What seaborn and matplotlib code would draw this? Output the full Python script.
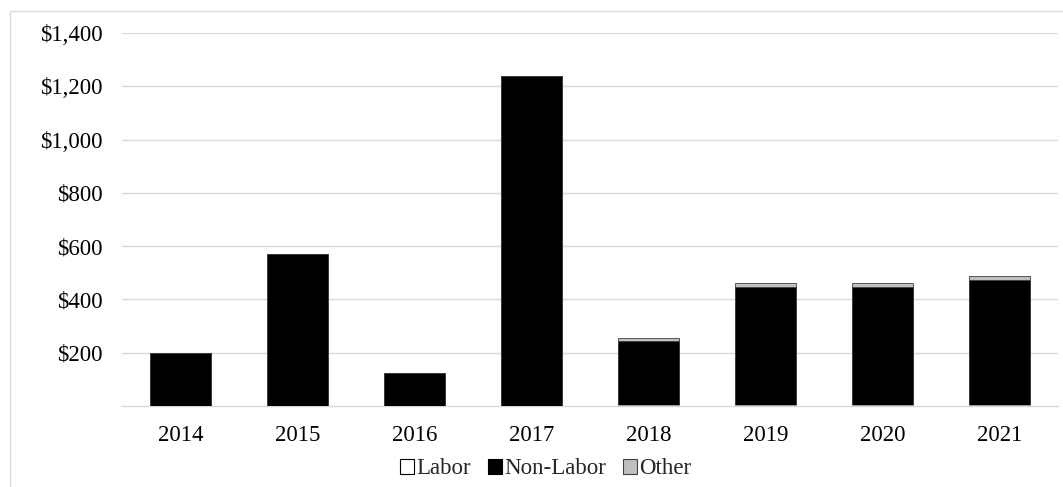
import matplotlib
matplotlib.use("Agg")
import matplotlib.pyplot as plt
from matplotlib.patches import Patch, Rectangle
import seaborn as sns
import numpy as np
import pandas as pd

years = ["2014", "2015", "2016", "2017", "2018", "2019", "2020", "2021"]
labor = [1, 1, 1, 1, 2, 2, 2, 2]
non_labor = [199, 569, 124, 1239, 241, 443, 443, 470]
other = [0, 0, 0, 0, 14, 15, 15, 15]
y_ticks = [200, 400, 600, 800, 1000, 1200, 1400]

sns.set_theme(style="white")
plt.rcParams['font.family'] = ['Liberation Serif', 'DejaVu Serif']

fig = plt.figure(figsize=(10.63, 4.87), dpi=100)
ax = fig.add_axes([122/1063, (487-406)/487, (1058-122)/1063, (406-33)/487])

lab = np.array(labor)
nl = np.array(non_labor)
ot = np.array(other)
df = pd.DataFrame({"year": years, "total": lab + nl + ot, "ln": lab + nl, "l": lab})

w = 0.52
sns.barplot(data=df, x="year", y="total", color="#BFBFBF", width=w, ax=ax,
            edgecolor="#404040", linewidth=0.6, saturation=1, zorder=2)
sns.barplot(data=df, x="year", y="ln", color="black", width=w, ax=ax,
            edgecolor="#404040", linewidth=0.6, saturation=1, zorder=3)
sns.barplot(data=df, x="year", y="l", color="white", width=w, ax=ax,
            edgecolor="#A0A0A0", linewidth=0.6, saturation=1, zorder=4)

ax.set_ylim(0, 1400)
ax.set_xlim(-0.5, len(years) - 0.5)
ax.set_yticks(y_ticks)
ax.set_yticklabels([f"${v:,}" for v in y_ticks])
ax.yaxis.grid(True, color="#D9D9D9", linewidth=1.0, zorder=0)
ax.set_axisbelow(True)
for s in ["top", "right", "left"]:
    ax.spines[s].set_visible(False)
ax.spines["bottom"].set_color("#D9D9D9")
ax.spines["bottom"].set_linewidth(1.0)
ax.set_xlabel("")
ax.set_ylabel("")
ax.tick_params(axis="both", length=0, labelsize=16.5, labelcolor="black")
ax.tick_params(axis="y", pad=14)
ax.tick_params(axis="x", pad=14)

handles = [Patch(facecolor="white", edgecolor="black", linewidth=0.8),
           Patch(facecolor="black", edgecolor="black", linewidth=0.8),
           Patch(facecolor="#BFBFBF", edgecolor="#404040", linewidth=0.8)]
fig.legend(handles, ["Labor", "Non-Labor", "Other"], loc="center",
           bbox_to_anchor=(546/1063, 1 - 469/487), ncol=3, frameon=False,
           fontsize=16.5, handlelength=0.6, handleheight=0.6,
           handletextpad=0.1, columnspacing=0.75, borderaxespad=0,
           borderpad=0)

fig.patches.append(Rectangle((10/1063, -0.05), 1.2, 1 - 11/487 + 0.05,
                             transform=fig.transFigure, fill=False,
                             edgecolor="#D9D9D9", linewidth=1.0))

fig.savefig("out.png", dpi=100)
